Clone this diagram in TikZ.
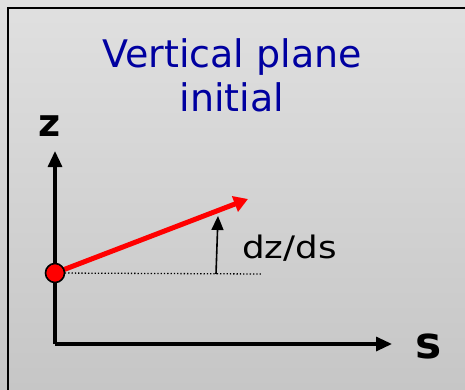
\documentclass[tikz,border=0pt]{standalone}
\usepackage{fontspec}
\setmainfont{DejaVu Sans}
\usetikzlibrary{arrows.meta}
\definecolor{bgtop}{HTML}{E0E0E0}
\definecolor{bgbot}{HTML}{C6C6C6}
\definecolor{titleblue}{HTML}{0000A0}
\tikzset{
  axis/.style={line width=3.2pt, -{Triangle[length=16pt,width=14pt]}},
  redarrow/.style={red, line width=5pt, -{Triangle[length=14pt,width=16pt]}},
  smallarrow/.style={line width=1.6pt, -{Triangle[length=14pt,width=12pt]}},
  guide/.style={dotted, line width=1.3pt},
  lbl/.style={inner sep=0pt},
}
\begin{document}
\begin{tikzpicture}[x=1pt,y=-1pt]
  \shade[top color=bgtop, bottom color=bgbot] (0,0) rectangle (465,390);
  \useasboundingbox (0,0) rectangle (465,390);
  \draw[line width=2.2pt] (8,390) -- (8,8) -- (465,8);
  \node[titleblue, align=center, inner sep=0pt, anchor=base,
        font=\fontsize{38}{44}\selectfont] (title) at (232,112) {Vertical plane\\initial};
  \coordinate (o) at (55,344);
  \coordinate (ztip) at (55,151);
  \coordinate (stip) at (392,344);
  \coordinate (p) at (55,273);
  \coordinate (rtip) at (248,199);
  \coordinate (dotend) at (262,274);
  \coordinate (abase) at (216,274);
  \coordinate (atip) at (218,216);
  \draw[axis] (o) -- (ztip);
  \draw[axis] (o) -- (stip);
  \node[lbl, font=\fontsize{38}{44}\bfseries\selectfont] (zl) at (50,126) {z};
  \node[lbl, font=\fontsize{44}{50}\bfseries\selectfont] (sl) at (429,346) {s};
  \draw[guide] (p) -- (dotend);
  \draw[redarrow] (p) -- (rtip);
  \draw[smallarrow] (abase) -- (atip);
  \node[circle, fill=red, draw=black, line width=1.6pt, minimum size=19pt, inner sep=0pt] (dot) at (p) {};
  \node[lbl, font=\fontsize{31}{36}\selectfont, anchor=base west] (dzds) at (242,258) {\scalebox{1.15}[1]{dz/ds}};
\end{tikzpicture}
\end{document}
